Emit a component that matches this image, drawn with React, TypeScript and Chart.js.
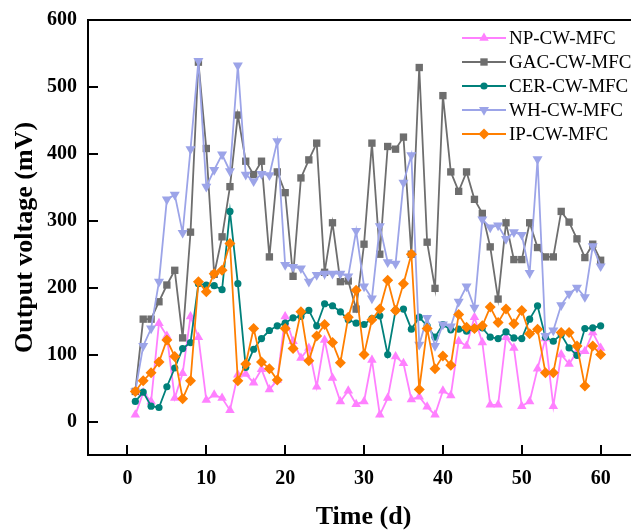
import React, { useEffect, useRef } from 'react';
import { Chart, registerables } from 'chart.js';

Chart.register(...registerables);

const days = [1, 2, 3, 4, 5, 6, 7, 8, 9, 10, 11, 12, 13, 14, 15, 16, 17, 18, 19, 20, 21, 22, 23, 24, 25, 26, 27, 28, 29, 30, 31, 32, 33, 34, 35, 36, 37, 38, 39, 40, 41, 42, 43, 44, 45, 46, 47, 48, 49, 50, 51, 52, 53, 54, 55, 56, 57, 58, 59, 60];

const npValues = [10, 43, 30, 147, 128, 35, 72, 157, 126, 32, 40, 35, 17, 70, 71, 58, 78, 48, 62, 157, 120, 95, 110, 52, 122, 65, 30, 46, 26, 30, 92, 10, 35, 97, 87, 33, 37, 22, 10, 46, 39, 120, 113, 156, 118, 25, 25, 126, 110, 23, 30, 79, 124, 23, 100, 86, 104, 105, 133, 110];
const gacValues = [45, 153, 153, 179, 204, 226, 125, 283, 537, 408, 220, 276, 351, 458, 389, 369, 389, 246, 373, 342, 217, 364, 391, 416, 223, 297, 209, 210, 168, 265, 416, 250, 411, 407, 425, 250, 529, 268, 199, 487, 373, 344, 373, 332, 311, 261, 183, 297, 242, 242, 297, 260, 246, 246, 314, 298, 273, 245, 265, 241];
const cerValues = [30, 44, 23, 21, 52, 80, 109, 118, 206, 204, 203, 197, 314, 206, 81, 108, 124, 136, 143, 147, 155, 157, 166, 143, 176, 173, 164, 152, 147, 145, 154, 158, 100, 166, 168, 138, 156, 143, 126, 145, 137, 138, 135, 139, 140, 126, 124, 134, 125, 124, 153, 173, 126, 120, 130, 110, 99, 139, 140, 143];
const whValues = [45, 113, 139, 209, 332, 339, 282, 407, 539, 351, 376, 399, 374, 532, 369, 359, 370, 368, 419, 234, 231, 229, 209, 219, 221, 221, 221, 217, 285, 202, 184, 292, 238, 236, 357, 398, 115, 155, 113, 145, 142, 179, 202, 170, 302, 290, 293, 273, 283, 279, 222, 392, 128, 136, 174, 191, 200, 186, 262, 232];
const ipValues = [45, 61, 73, 89, 122, 97, 34, 61, 209, 194, 221, 226, 266, 61, 86, 139, 89, 79, 62, 139, 109, 164, 91, 128, 145, 118, 88, 156, 196, 100, 152, 168, 211, 166, 206, 250, 48, 139, 79, 98, 84, 160, 141, 139, 143, 171, 148, 168, 146, 166, 131, 138, 73, 73, 133, 133, 113, 53, 113, 100];

const seriesLabels = ['NP-CW-MFC', 'GAC-CW-MFC', 'CER-CW-MFC', 'WH-CW-MFC', 'IP-CW-MFC'];
const xTickValues = [0, 10, 20, 30, 40, 50, 60];
const yTickValues = [0, 100, 200, 300, 400, 500, 600];

const seriesStyles = [
  { color: '#FF80FF', shape: 'triangle', rotation: 0, radius: 5.5, order: 5 },
  { color: '#6E6E6E', shape: 'rect', rotation: 0, radius: 5.2, order: 4 },
  { color: '#00807A', shape: 'circle', rotation: 0, radius: 3.6, order: 3 },
  { color: '#9CA4E8', shape: 'triangle', rotation: 180, radius: 5.8, order: 2 },
  { color: '#FF7F00', shape: 'rectRot', rotation: 0, radius: 5.5, order: 1 },
];

const seriesValues = [npValues, gacValues, cerValues, whValues, ipValues];

function drawMarker(ctx: CanvasRenderingContext2D, shape: string, rotation: number, r: number, x: number, y: number) {
  ctx.beginPath();
  if (shape === 'circle') {
    ctx.arc(x, y, r, 0, Math.PI * 2);
  } else if (shape === 'rect') {
    const s = Math.SQRT1_2 * r;
    ctx.rect(x - s, y - s, 2 * s, 2 * s);
  } else if (shape === 'rectRot') {
    ctx.moveTo(x, y - r);
    ctx.lineTo(x + r, y);
    ctx.lineTo(x, y + r);
    ctx.lineTo(x - r, y);
    ctx.closePath();
  } else if (shape === 'triangle') {
    let a = (rotation * Math.PI) / 180;
    for (let k = 0; k < 3; k++) {
      const px = x + Math.sin(a) * r;
      const py = y - Math.cos(a) * r;
      if (k === 0) ctx.moveTo(px, py);
      else ctx.lineTo(px, py);
      a += (2 * Math.PI) / 3;
    }
    ctx.closePath();
  }
  ctx.fill();
}

const framePlugin = {
  id: 'framePlugin',
  afterDraw(chart: any) {
    const ctx: CanvasRenderingContext2D = chart.ctx;
    const { left, top, bottom } = chart.chartArea;
    const xs = chart.scales.x;
    const ys = chart.scales.y;
    ctx.save();
    ctx.strokeStyle = '#000';
    ctx.lineWidth = 2;
    ctx.beginPath();
    ctx.moveTo(left, top);
    ctx.lineTo(chart.width + 2, top);
    ctx.moveTo(left, top - 1);
    ctx.lineTo(left, bottom + 1);
    ctx.moveTo(left - 1, bottom);
    ctx.lineTo(chart.width + 2, bottom);
    ctx.stroke();
    // inward ticks
    ctx.beginPath();
    xTickValues.forEach((v) => {
      const px = Math.round(xs.getPixelForValue(v));
      ctx.moveTo(px, bottom);
      ctx.lineTo(px, bottom - 10);
    });
    yTickValues.forEach((v) => {
      const py = Math.round(ys.getPixelForValue(v));
      ctx.moveTo(left, py);
      ctx.lineTo(left + 10, py);
    });
    ctx.stroke();

    // axis titles
    ctx.fillStyle = '#000';
    ctx.font = 'bold 26px "Liberation Serif"';
    ctx.textAlign = 'center';
    ctx.textBaseline = 'middle';
    ctx.fillText('Time (d)', (left + 631) / 2 + 4, 517);
    ctx.save();
    ctx.translate(25, (top + bottom) / 2);
    ctx.rotate(-Math.PI / 2);
    ctx.fillText('Output voltage (mV)', 0, 0);
    ctx.restore();

    // legend
    ctx.font = '19px "Liberation Serif"';
    ctx.textAlign = 'left';
    seriesLabels.forEach((label, i) => {
      const st = seriesStyles[i];
      const y = 38 + i * 24;
      ctx.strokeStyle = st.color;
      ctx.lineWidth = 2;
      ctx.beginPath();
      ctx.moveTo(462, y);
      ctx.lineTo(506, y);
      ctx.stroke();
      ctx.fillStyle = st.color;
      drawMarker(ctx, st.shape, st.rotation, st.radius, 484, y);
      ctx.fillStyle = '#000';
      ctx.fillText(label, 509, y + 1);
    });
    ctx.restore();
  },
};

export default function App() {
  const canvasRef = useRef<HTMLCanvasElement | null>(null);

  useEffect(() => {
    const canvas = canvasRef.current;
    if (!canvas) return;
    const datasets = seriesLabels.map((label, i) => {
      const st = seriesStyles[i];
      const vals = seriesValues[i];
      return {
        label,
        data: days.map((d, j) => ({ x: d, y: vals[j] })),
        borderColor: st.color,
        backgroundColor: st.color,
        borderWidth: 1.8,
        pointStyle: st.shape,
        pointRotation: st.rotation,
        pointRadius: st.radius,
        pointBackgroundColor: st.color,
        pointBorderColor: st.color,
        pointBorderWidth: 0,
        tension: 0,
        fill: false,
        order: st.order,
      };
    });
    const tickFont = { family: '"Liberation Serif"', weight: 'bold' as const, size: 20 };
    const chart = new Chart(canvas, {
      type: 'line',
      data: { datasets },
      options: {
        animation: false,
        responsive: false,
        devicePixelRatio: 1,
        layout: { autoPadding: false, padding: { top: 20, left: 0, right: 0, bottom: 0 } },
        plugins: { legend: { display: false }, tooltip: { enabled: false } },
        scales: {
          x: {
            type: 'linear',
            min: -5,
            max: 63.85,
            grid: { display: false, drawTicks: false },
            border: { display: false },
            afterBuildTicks: (axis: any) => {
              axis.ticks = xTickValues.map((v) => ({ value: v }));
            },
            afterFit: (scale: any) => {
              scale.height = 77;
              scale.paddingLeft = 0;
              scale.paddingRight = 0;
            },
            ticks: { font: tickFont, color: '#000', padding: 12, autoSkip: false, maxRotation: 0 },
          },
          y: {
            type: 'linear',
            min: -50,
            max: 600,
            grid: { display: false, drawTicks: false },
            border: { display: false },
            afterBuildTicks: (axis: any) => {
              axis.ticks = yTickValues.map((v) => ({ value: v }));
            },
            afterFit: (scale: any) => {
              scale.width = 88;
              scale.paddingTop = 0;
              scale.paddingBottom = 0;
            },
            ticks: { font: tickFont, color: '#000', padding: 11 },
          },
        },
      },
      plugins: [framePlugin],
    } as any);
    return () => chart.destroy();
  }, []);

  return (
    <div style={{ position: 'fixed', left: 0, top: 0, width: 631, height: 532, overflow: 'hidden', background: '#fff' }}>
      <canvas ref={canvasRef} width={631} height={532} style={{ display: 'block', width: 631, height: 532 }} />
    </div>
  );
}
